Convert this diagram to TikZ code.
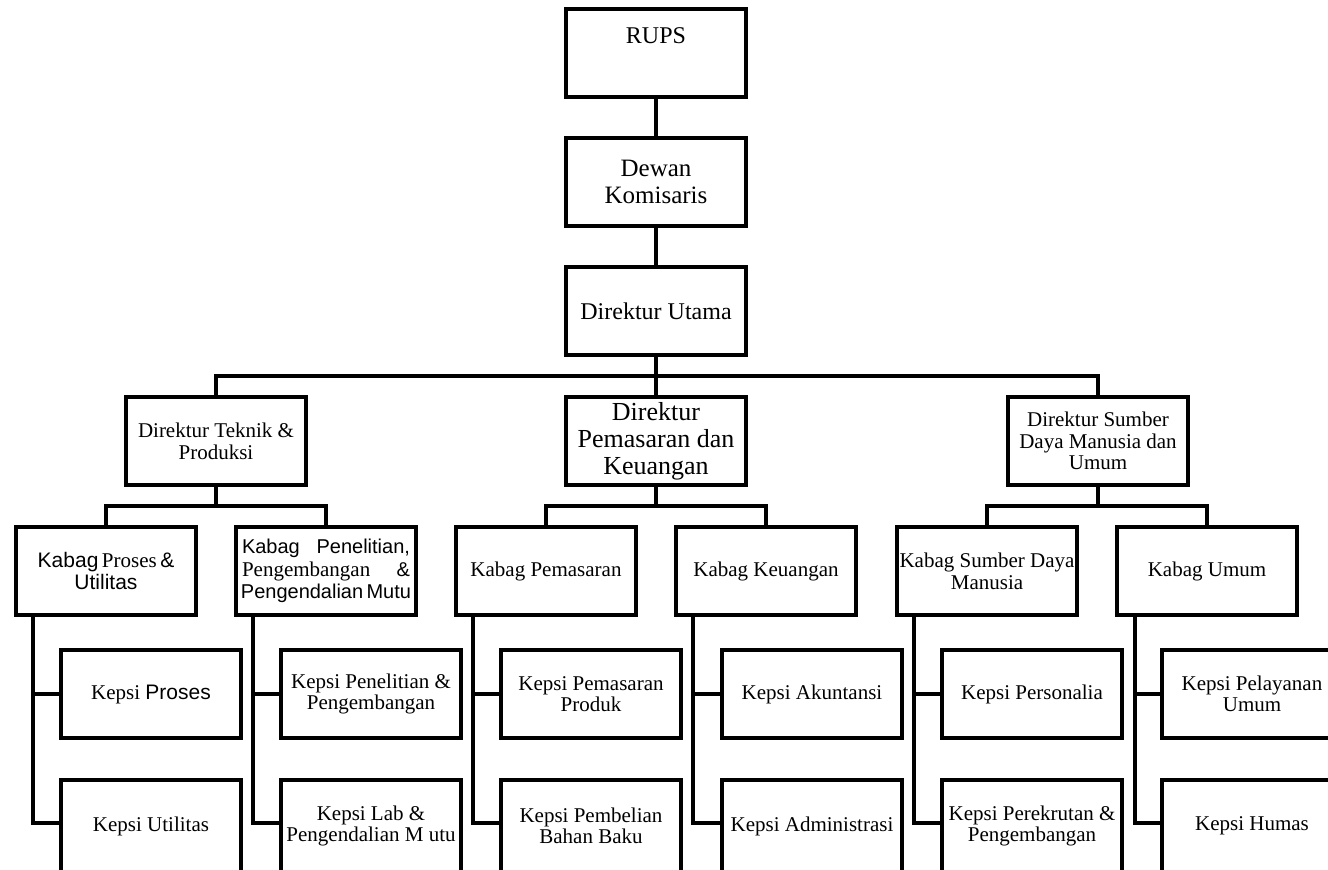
\documentclass[tikz,border=0pt]{standalone}
\usepackage{fontspec}
\setmainfont{Liberation Serif}
\setsansfont{Liberation Sans}

\begin{document}
\begin{tikzpicture}[x=0.5pt, y=-0.5pt, line width=1.6pt]

\tikzstyle{every node}=[rectangle, draw, line width=1.6pt, minimum width=90pt, minimum height=44pt, inner sep=1pt, align=center, font=\fontsize{10.5}{10.5}\selectfont]
\tikzstyle{lowbox}=[minimum height=46pt]
\useasboundingbox (0,0) rectangle (1328,869);

% puncak
\draw (656,53)  node[font=\fontsize{12}{14}\selectfont] (rups) {RUPS\\[3pt]\mbox{}}
      (656,182) node[font=\fontsize{12.5}{13.5}\selectfont] (dekom) {Dewan\\Komisaris}
      (656,311) node[font=\fontsize{12}{14}\selectfont] (dirut) {Direktur Utama};

% direktur
\draw (216,441)  node[font=\fontsize{10.5}{11}\selectfont] (dirtek) {Direktur Teknik \&\\Produksi}
      (656,441)  node[font=\fontsize{13}{13.5}\selectfont] (dirpk) {Direktur\\Pemasaran dan\\Keuangan}
      (1098,441) node[font=\fontsize{10.5}{10.8}\selectfont] (dirsdm) {Direktur Sumber\\Daya Manusia dan\\Umum};

% kabag
\draw (106,571)  node[font=\fontsize{10.5}{11}\selectfont] (kproses) {{\sffamily Kabag}\,Proses\,{\sffamily\&}\\{\sffamily Utilitas}}
      (326,571)  node[font=\fontsize{10}{11.3}\selectfont\sffamily] (kpenel) {\makebox[84pt][s]{Kabag Penelitian,}\\\makebox[84pt][s]{{\rmfamily\fontsize{10.5}{11.3}\selectfont Pengembangan} \&}\\Pengendalian\,Mutu}
      (546,571)  node (kpasar) {Kabag Pemasaran}
      (766,571)  node (kuang) {Kabag Keuangan}
      (987,571)  node[font=\fontsize{10.5}{11}\selectfont] (ksdm) {Kabag Sumber Daya\\Manusia}
      (1207,571) node (kumum) {Kabag Umum};

% kepsi
\draw (151,694)  node (kepsiproses) {Kepsi {\sffamily Proses}}
      (151,826)  node[lowbox] (kepsiutil) {Kepsi Utilitas}
      (371,694)  node (kepsipenel) {Kepsi Penelitian \&\\Pengembangan}
      (371,826)  node[lowbox] (kepsilab) {Kepsi Lab \&\\Pengendalian M utu}
      (591,694)  node (kepsiproduk) {Kepsi Pemasaran\\Produk}
      (591,826)  node[lowbox] (kepsibeli) {Kepsi Pembelian\\Bahan Baku}
      (812,694)  node (kepsiakun) {Kepsi Akuntansi}
      (812,826)  node[lowbox] (kepsiadm) {Kepsi Administrasi}
      (1032,694) node (kepsipers) {Kepsi Personalia}
      (1032,826) node[lowbox] (kepsirekrut) {Kepsi Perekrutan \&\\Pengembangan}
      (1252,694) node (kepsilayan) {Kepsi Pelayanan\\Umum}
      (1252,826) node[lowbox] (kepsihumas) {Kepsi Humas};

\coordinate (bus) at (656,376);
\coordinate (btek) at (216,506);
\coordinate (bpk) at (656,506);
\coordinate (bsdm) at (1098,506);
\coordinate (t1) at (33,615);
\coordinate (t2) at (253,615);
\coordinate (t3) at (473,615);
\coordinate (t4) at (693,615);
\coordinate (t5) at (914,615);
\coordinate (t6) at (1135,615);

\draw (rups) -- (dekom);
\draw (dekom) -- (dirut);
\draw (dirut) -- (bus);
\draw (dirtek) |- (bus) -| (dirsdm);
\draw (bus) -- (dirpk);

\draw (dirtek) -- (btek);
\draw (kproses) |- (btek) -| (kpenel);
\draw (dirpk) -- (bpk);
\draw (kpasar) |- (bpk) -| (kuang);
\draw (dirsdm) -- (bsdm);
\draw (ksdm) |- (bsdm) -| (kumum);

\draw (t1) |- (kepsiproses.west);
\draw (t1) |- ([yshift=1.5pt]kepsiutil.west);
\draw (t2) |- (kepsipenel.west);
\draw (t2) |- ([yshift=1.5pt]kepsilab.west);
\draw (t3) |- (kepsiproduk.west);
\draw (t3) |- ([yshift=1.5pt]kepsibeli.west);
\draw (t4) |- (kepsiakun.west);
\draw (t4) |- ([yshift=1.5pt]kepsiadm.west);
\draw (t5) |- (kepsipers.west);
\draw (t5) |- ([yshift=1.5pt]kepsirekrut.west);
\draw (t6) |- (kepsilayan.west);
\draw (t6) |- ([yshift=1.5pt]kepsihumas.west);

\end{tikzpicture}
\end{document}
